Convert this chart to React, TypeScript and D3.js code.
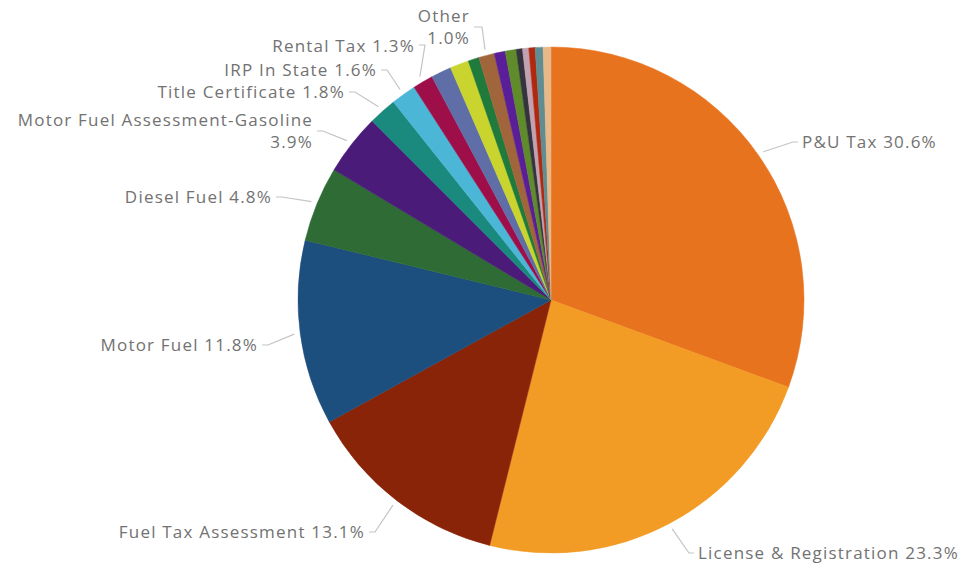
import React from 'react';
import * as d3 from 'd3';

const categories = [
  'P&U Tax',
  'License & Registration',
  'Fuel Tax Assessment',
  'Motor Fuel',
  'Diesel Fuel',
  'Motor Fuel Assessment-Gasoline',
  'Title Certificate',
  'IRP In State',
  'Rental Tax',
  'Misc A',
  'Misc B',
  'Misc C',
  'Other',
  'Misc D',
  'Misc E',
  'Misc F',
  'Misc G',
  'Misc H',
  'Misc I',
  'Misc J',
];
const values = [30.6, 23.3, 13.1, 11.8, 4.8, 3.9, 1.8, 1.6, 1.3, 1.3, 1.2, 0.7, 1.0, 0.7, 0.7, 0.4, 0.4, 0.4, 0.5, 0.5];
const sliceColors = [
  '#E8731F', '#F29B25', '#8A2408', '#1C4E7E', '#2E6B35', '#4A1B78', '#1B8A7E', '#4CB6D6', '#9E0F4A',
  '#5F6EA6', '#C9D52E', '#1F7A3B', '#A0653A', '#5A1F98', '#5F8B2B', '#34343F', '#C2A1B0', '#B0290F',
  '#5F8D92', '#E8B888',
];

// label text lines for labeled slices
const labelText: Record<string, string[]> = {
  'P&U Tax': ['P&U Tax 30.6%'],
  'License & Registration': ['License & Registration 23.3%'],
  'Fuel Tax Assessment': ['Fuel Tax Assessment 13.1%'],
  'Motor Fuel': ['Motor Fuel 11.8%'],
  'Diesel Fuel': ['Diesel Fuel 4.8%'],
  'Motor Fuel Assessment-Gasoline': ['Motor Fuel Assessment-Gasoline', '3.9%'],
  'Title Certificate': ['Title Certificate 1.8%'],
  'IRP In State': ['IRP In State 1.6%'],
  'Rental Tax': ['Rental Tax 1.3%'],
  'Other': ['Other', '1.0%'],
};

// layout (positions kept separate from data)
type LabelLayout = { side: 'left' | 'right'; x: number; cy: number; lineCy?: number; vertical?: boolean };
const labelLayout: Record<string, LabelLayout> = {
  'P&U Tax': { side: 'right', x: 802, cy: 142 },
  'License & Registration': { side: 'right', x: 698, cy: 553 },
  'Fuel Tax Assessment': { side: 'left', x: 365, cy: 532 },
  'Motor Fuel': { side: 'left', x: 258, cy: 345 },
  'Diesel Fuel': { side: 'left', x: 272, cy: 197 },
  'Motor Fuel Assessment-Gasoline': { side: 'left', x: 313, cy: 120, lineCy: 131 },
  'Title Certificate': { side: 'left', x: 345, cy: 92 },
  'IRP In State': { side: 'left', x: 377, cy: 70 },
  'Rental Tax': { side: 'left', x: 415, cy: 46, lineCy: 45 },
  'Other': { side: 'left', x: 470, cy: 16, lineCy: 27, vertical: true },
};

const W = 965;
const H = 566;
const cx = 551;
const cy = 300;
const R = 253;
const lineH = 22;

export default function App() {
  const pie = d3
    .pie<number>()
    .sort(null)
    .value((d) => d)
    .startAngle(0)
    .endAngle(2 * Math.PI);
  const arcs = pie(values);
  const arcGen = d3.arc<d3.PieArcDatum<number>>().innerRadius(0).outerRadius(R);
  const outerArc = d3.arc<d3.PieArcDatum<number>>().innerRadius(R + 6).outerRadius(R + 6);

  return (
    <svg
      width={W}
      height={H}
      viewBox={`0 0 ${W} ${H}`}
      style={{ position: 'absolute', left: 0, top: 0, background: '#fff' }}
    >
      <g transform={`translate(${cx},${cy})`}>
        {arcs.map((a, i) => (
          <path key={i} d={arcGen(a) || ''} fill={sliceColors[i]} stroke={sliceColors[i]} strokeWidth={0.5} />
        ))}
      </g>
      {arcs.map((a, i) => {
        const name = categories[i];
        const lay = labelLayout[name];
        const lines = labelText[name];
        if (!lay || !lines) return null;
        const [sx, sy] = outerArc.centroid(a);
        const start: [number, number] = [sx + cx, sy + cy];
        const ly = lay.lineCy ?? lay.cy;
        let pts: [number, number][];
        if (lay.vertical) {
          pts = [start, [start[0] - 3, ly], [lay.x + 4, ly]];
        } else if (lay.side === 'right') {
          pts = [start, [lay.x - 9, ly], [lay.x - 4, ly]];
        } else {
          pts = [start, [lay.x + 10, ly], [lay.x + 4, ly]];
        }
        const path = d3.line()(pts) || '';
        return (
          <g key={`l${i}`}>
            <path d={path} fill="none" stroke="#c4c4c4" strokeWidth={1.2} />
            {lines.map((t, j) => (
              <text
                key={j}
                x={lay.x}
                y={lay.cy + j * lineH}
                dy="0.35em"
                textAnchor={lay.side === 'right' ? 'start' : 'end'}
                fontFamily="'Open Sans', Roboto, sans-serif"
                fontSize={17}
                letterSpacing={1.2}
                fill="#727272"
              >
                {t}
              </text>
            ))}
          </g>
        );
      })}
    </svg>
  );
}
